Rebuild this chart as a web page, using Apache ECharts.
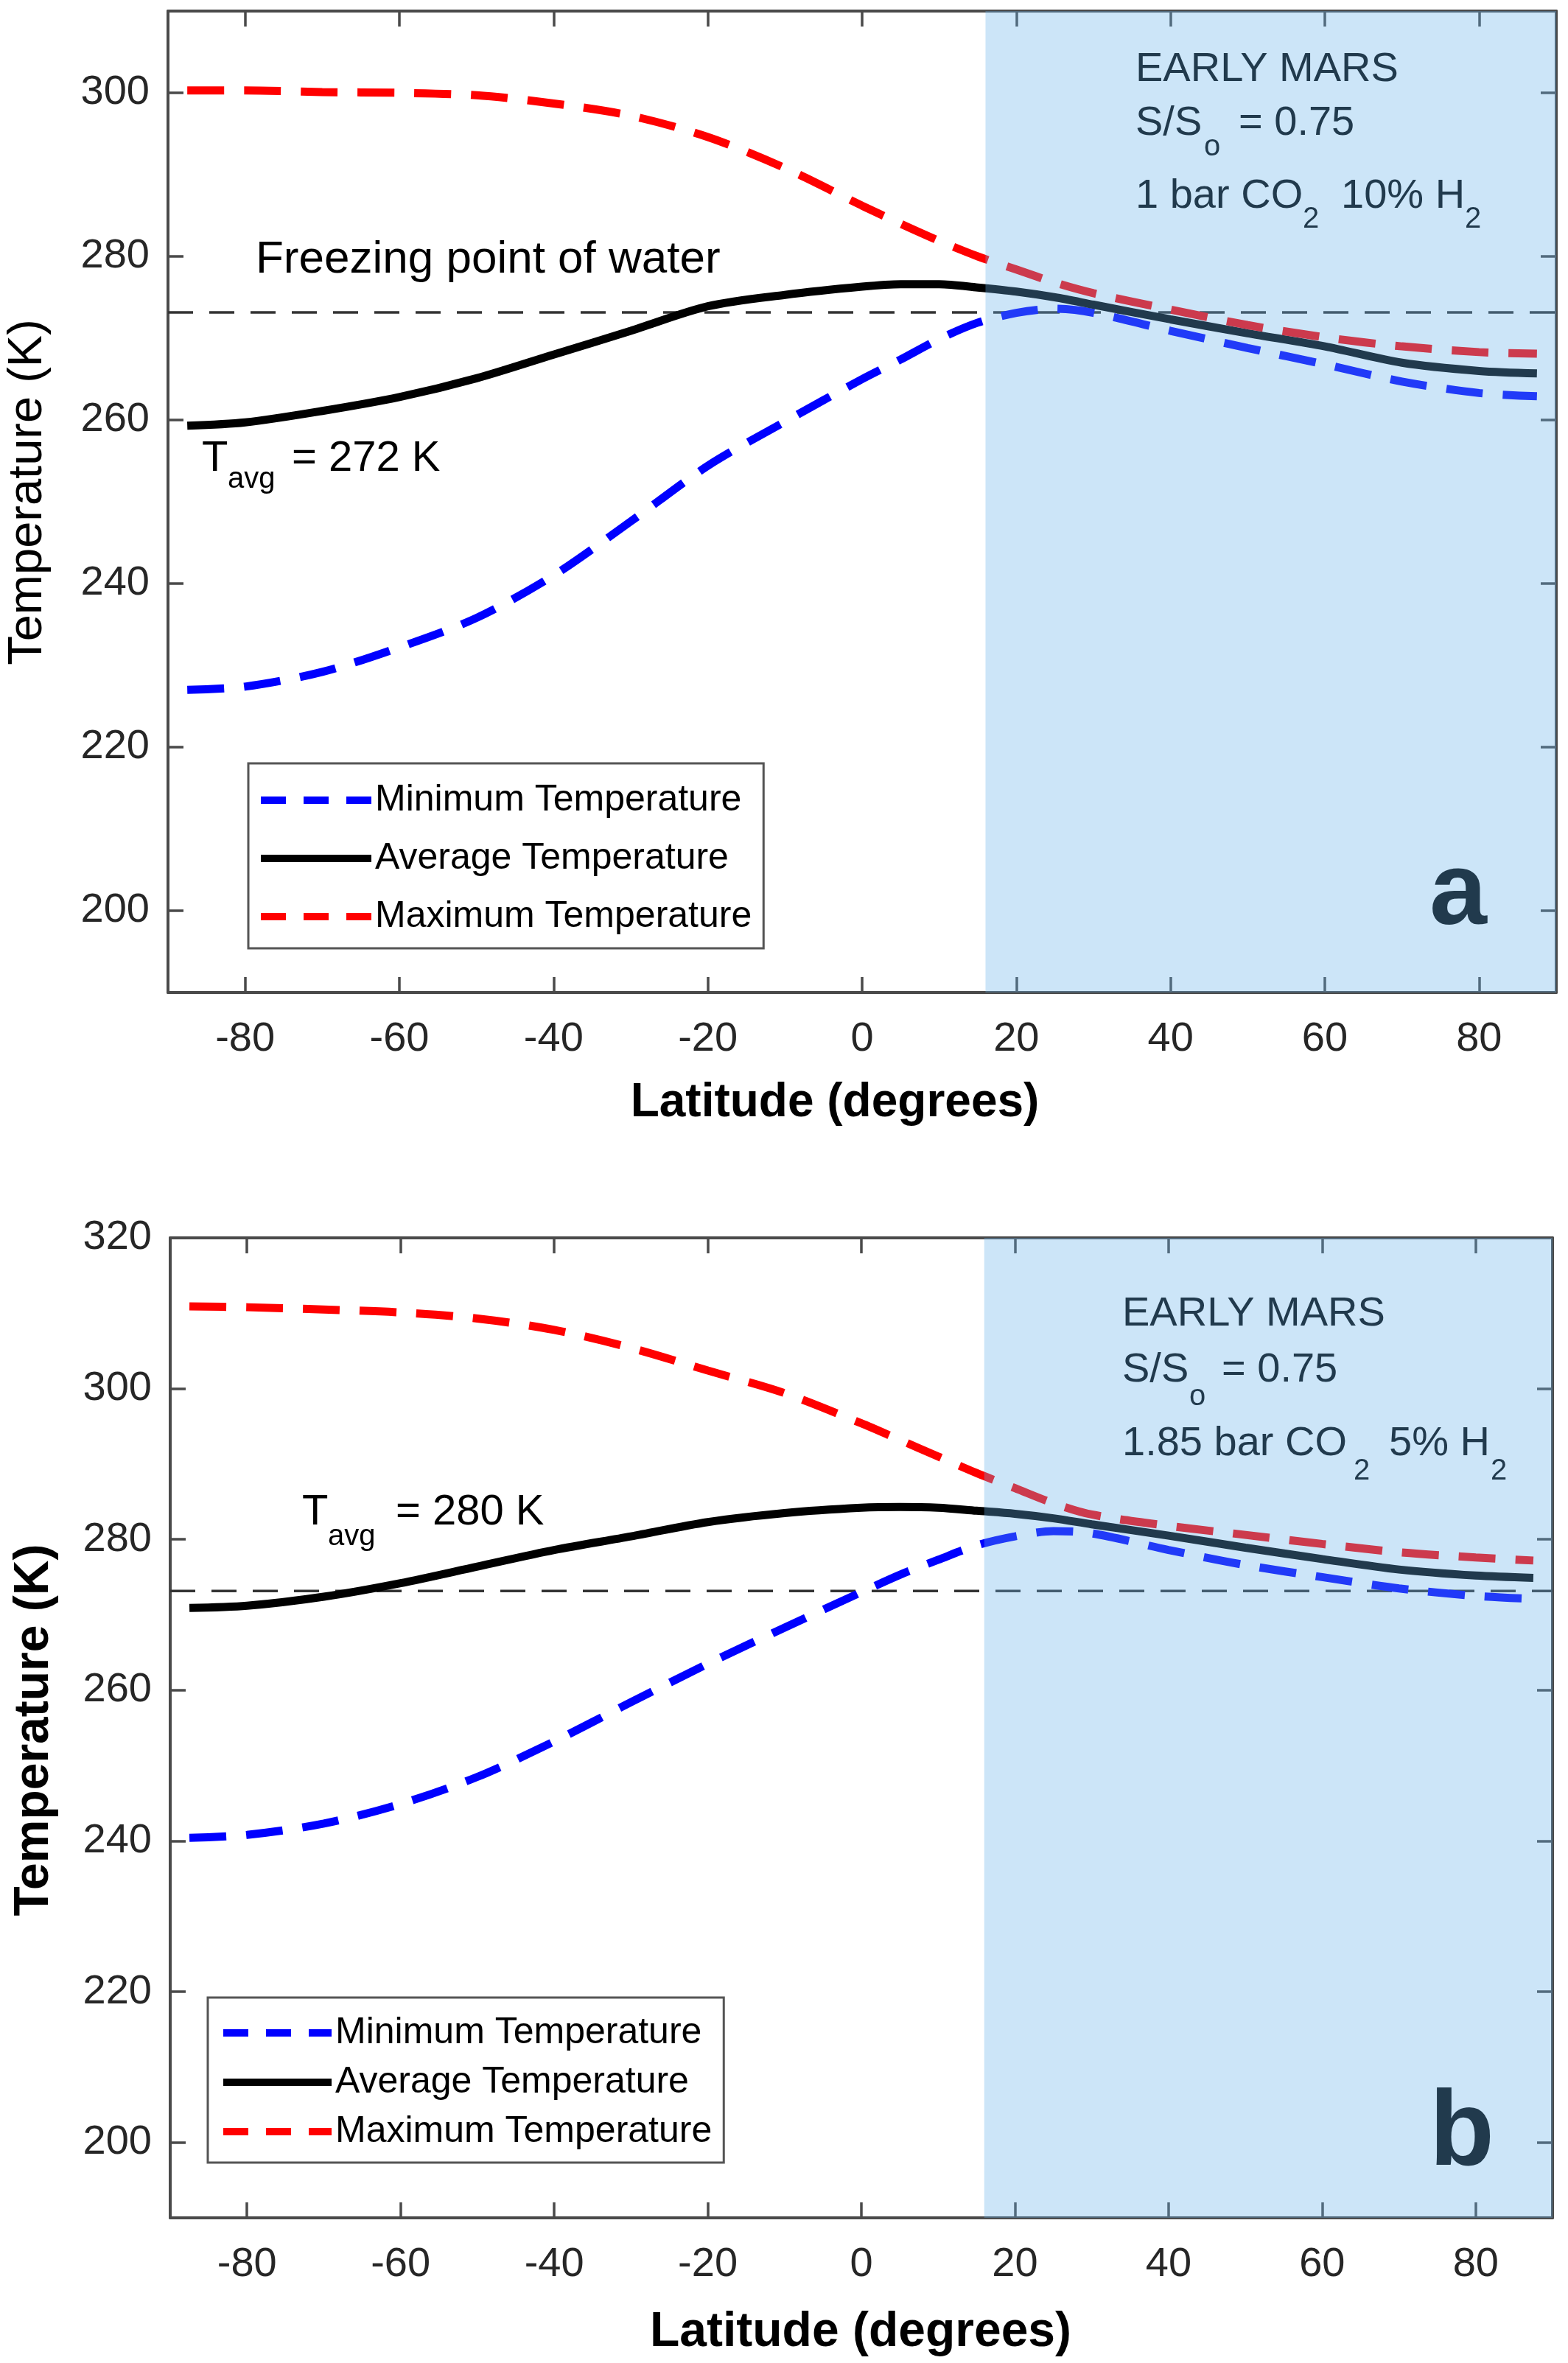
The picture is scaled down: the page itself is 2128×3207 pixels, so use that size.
<!DOCTYPE html>
<html>
<head>
<meta charset="utf-8">
<script src="https://cdn.jsdelivr.net/npm/echarts/dist/echarts.min.js"></script>
<style>
html,body{margin:0;padding:0;background:#fff;}
#chart{width:2128px;height:3207px;}
</style>
</head>
<body>
<div id="chart"></div>
<script>
// ---------- data ----------
const lat = [-87.5, -80, -70, -60, -50, -40, -30, -20, -10, 0, 5, 10, 15, 20, 25, 30, 40, 50, 60, 70, 80, 87.5];

// panel a : 1 bar CO2, 10% H2
const minA = [227.0, 227.4, 229.2, 232.2, 235.8, 241.0, 247.6, 254.4, 259.8, 265.0, 267.4, 269.9, 271.9, 273.1, 273.6, 273.1, 270.9, 268.8, 266.8, 264.7, 263.3, 262.9];
const avgA = [259.3, 259.7, 261.1, 262.8, 265.1, 268.0, 270.9, 273.9, 275.3, 276.3, 276.6, 276.6, 276.2, 275.7, 275.0, 274.1, 272.3, 270.6, 269.0, 267.0, 266.0, 265.7];
const maxA = [300.3, 300.3, 300.1, 300.0, 299.7, 298.7, 297.2, 294.6, 290.8, 286.2, 284.0, 281.9, 280.0, 278.4, 276.8, 275.5, 273.5, 271.6, 270.1, 269.0, 268.3, 268.1];

// panel b : 1.85 bar CO2, 5% H2
const minB = [240.4, 240.8, 242.3, 244.9, 248.5, 253.2, 258.4, 263.5, 268.3, 273.0, 275.3, 277.3, 279.2, 280.4, 281.1, 280.8, 278.6, 276.6, 275.0, 273.5, 272.5, 272.1];
const avgB = [270.9, 271.2, 272.4, 274.2, 276.4, 278.6, 280.4, 282.3, 283.5, 284.2, 284.3, 284.2, 283.8, 283.4, 282.8, 282.0, 280.5, 278.9, 277.4, 276.0, 275.2, 274.9];
const maxB = [310.9, 310.8, 310.5, 310.1, 309.3, 307.8, 305.4, 302.4, 299.4, 295.4, 293.2, 291.0, 288.8, 286.8, 284.8, 283.3, 281.8, 280.6, 279.4, 278.3, 277.6, 277.2];

const freezeLat = [-90, 90];
const freezeK = [273.15, 273.15];
const shadeLat = [16, 90];

const xTicks = [-80, -60, -40, -20, 0, 20, 40, 60, 80];
const yTicksA = [200, 220, 240, 260, 280, 300];
const yTicksB = [200, 220, 240, 260, 280, 300, 320];
const yRangeA = [190, 310];
const yRangeB = [190, 320];
const seriesNames = ['Minimum Temperature', 'Average Temperature', 'Maximum Temperature'];

// ---------- styling ----------
const FF = "'Liberation Sans', Arial, Helvetica, sans-serif";
const AX = '#4a4a4a';
const LBL = '#262626';
const SHADE = 'rgba(100,175,235,0.33)';
const LW = 11;
const DASH = [50, 27];
const zip = (xs, ys) => xs.map((x, i) => [x, ys[i]]);

function xAxes(grid) {
  return [{
    type: 'value', gridIndex: grid, position: 'bottom', min: -90, max: 90,
    axisLine: {show: true, onZero: false, lineStyle: {color: AX, width: 4}},
    axisTick: {show: true, inside: true, length: 21, customValues: xTicks, lineStyle: {color: AX, width: 3.5}},
    axisLabel: {show: true, customValues: xTicks, fontSize: 56, fontFamily: FF, color: LBL, margin: 36},
    splitLine: {show: false}
  }, {
    type: 'value', gridIndex: grid, position: 'top', min: -90, max: 90,
    axisLine: {show: true, onZero: false, lineStyle: {color: AX, width: 4}},
    axisTick: {show: true, inside: true, length: 21, customValues: xTicks, lineStyle: {color: AX, width: 3.5}},
    axisLabel: {show: false}, splitLine: {show: false}
  }];
}
function yAxes(grid, range, ticks) {
  return [{
    type: 'value', gridIndex: grid, position: 'left', min: range[0], max: range[1],
    axisLine: {show: true, onZero: false, lineStyle: {color: AX, width: 4}},
    axisTick: {show: true, inside: true, length: 21, customValues: ticks, lineStyle: {color: AX, width: 3.5}},
    axisLabel: {show: true, customValues: ticks, fontSize: 56, fontFamily: FF, color: LBL, margin: 25},
    splitLine: {show: false}
  }, {
    type: 'value', gridIndex: grid, position: 'right', min: range[0], max: range[1],
    axisLine: {show: true, onZero: false, lineStyle: {color: AX, width: 4}},
    axisTick: {show: true, inside: true, length: 21, customValues: ticks, lineStyle: {color: AX, width: 3.5}},
    axisLabel: {show: false}, splitLine: {show: false}
  }];
}

function panelSeries(xi, yi, mins, avgs, maxs, yRange) {
  return [
    {type: 'line', xAxisIndex: xi, yAxisIndex: yi, data: zip(freezeLat, freezeK), symbol: 'none', silent: true, z: 1,
     lineStyle: {color: '#333', width: 3.5, type: [34, 22]}},
    {name: seriesNames[0], type: 'line', xAxisIndex: xi, yAxisIndex: yi, data: zip(lat, mins), symbol: 'none', smooth: 0.3, color: '#0000ff',
     lineStyle: {color: '#0000ff', width: LW, type: DASH, cap: 'butt'}},
    {name: seriesNames[1], type: 'line', xAxisIndex: xi, yAxisIndex: yi, data: zip(lat, avgs), symbol: 'none', smooth: 0.3, color: '#000000',
     lineStyle: {color: '#000000', width: LW}},
    {name: seriesNames[2], type: 'line', xAxisIndex: xi, yAxisIndex: yi, data: zip(lat, maxs), symbol: 'none', smooth: 0.3, color: '#ff0000',
     lineStyle: {color: '#ff0000', width: LW, type: DASH, cap: 'butt'}},
    {type: 'custom', xAxisIndex: xi, yAxisIndex: yi, z: 10, silent: true, data: [shadeLat],
     renderItem: function (params, api) {
       const p0 = api.coord([api.value(0), yRange[1]]);
       const p1 = api.coord([api.value(1), yRange[0]]);
       return {type: 'rect', shape: {x: p0[0], y: p0[1], width: p1[0] - p0[0], height: p1[1] - p0[1]}, style: {fill: SHADE}};
     }}
  ];
}

function legendOf(left, top, padding, gap, iw) {
  return {
    orient: 'vertical', left: left, top: top, padding: padding, itemGap: gap,
    itemWidth: iw, itemHeight: 20, selectedMode: false,
    backgroundColor: '#fff', borderColor: '#555', borderWidth: 3, borderRadius: 0,
    itemStyle: {opacity: 0},
    lineStyle: {width: 10},
    textStyle: {fontSize: 50, lineHeight: 56, color: '#000', fontFamily: FF},
    data: [
      {name: seriesNames[0], itemStyle: {opacity: 0}, lineStyle: {width: 10, type: [34, 24], cap: 'butt'}},
      {name: seriesNames[1], itemStyle: {opacity: 0}, lineStyle: {width: 10}},
      {name: seriesNames[2], itemStyle: {opacity: 0}, lineStyle: {width: 10, type: [34, 24], cap: 'butt'}}
    ]
  };
}

// annotation text helper (baseline-based)
function T(text, x, baseline, size, o) {
  o = o || {};
  return {type: 'text', x: x, y: baseline - 0.35 * size, z: o.z !== undefined ? o.z : 50, rotation: o.rot || 0,
    style: {text: text, fill: o.fill || '#000', font: (o.bold ? 'bold ' : '') + size + 'px ' + FF,
            align: o.align || 'left', verticalAlign: 'middle', textAlign: o.align || 'left', textVerticalAlign: 'middle'}};
}
function C(text, cx, cy, size, o) {
  o = o || {};
  return {type: 'text', x: cx, y: cy, z: 50, rotation: o.rot || 0,
    style: {text: text, fill: '#000', font: (o.bold ? 'bold ' : '') + size + 'px ' + FF,
            align: 'center', verticalAlign: 'middle', textAlign: 'center', textVerticalAlign: 'middle'}};
}
const U = {z: 1}; // drawn under the shaded patch

const graphics = [
  // panel a
  T('Freezing point of water', 347, 375, 62),
  T('T', 274, 643, 58), T('avg', 309, 665, 40), T('= 272 K', 396, 643, 58),
  T('EARLY MARS', 1541, 114, 56, U),
  T('S/S', 1541, 187, 56, U), T('o', 1634, 214, 40, U), T('= 0.75', 1681, 187, 56, U),
  T('1 bar CO', 1541, 286, 56, U), T('2', 1768, 312, 40, U), T('10% H', 1820, 286, 56, U), T('2', 1988, 312, 40, U),
  T('a', 1940, 1264, 140, {z: 1, bold: true}),
  C('Temperature (K)', 38, 668, 65, {rot: Math.PI / 2}),
  C('Latitude (degrees)', 1133, 1497, 64, {bold: true}),
  // panel b
  T('T', 410, 2073, 58), T('avg', 445, 2100, 40), T('= 280 K', 537, 2073, 58),
  T('EARLY MARS', 1523, 1803, 56, U),
  T('S/S', 1523, 1879, 56, U), T('o', 1614, 1910, 40, U), T('= 0.75', 1658, 1879, 56, U),
  T('1.85 bar CO', 1523, 1979, 56, U), T('2', 1837, 2011, 40, U), T('5% H', 1885, 1979, 56, U), T('2', 2023, 2011, 40, U),
  T('b', 1940, 2949, 144, {z: 1, bold: true}),
  C('Temperature (K)', 47, 2348, 66, {rot: Math.PI / 2, bold: true}),
  C('Latitude (degrees)', 1168, 3166, 66, {bold: true})
];

const option = {
  backgroundColor: '#ffffff',
  animation: false,
  grid: [
    {left: 228, top: 15, width: 1884, height: 1332, containLabel: false},
    {left: 231, top: 1680, width: 1876, height: 1330, containLabel: false}
  ],
  xAxis: [].concat(xAxes(0), xAxes(1)),
  yAxis: [].concat(yAxes(0, yRangeA, yTicksA), yAxes(1, yRangeB, yTicksB)),
  legend: [
    legendOf(337, 1036, [22, 16, 15, 12], 23, 150),
    legendOf(282, 2711, [20, 16, 14, 16], 11, 147)
  ],
  series: [].concat(
    panelSeries(0, 0, minA, avgA, maxA, yRangeA),
    panelSeries(2, 2, minB, avgB, maxB, yRangeB)
  ),
  graphic: {elements: graphics}
};

const chart = echarts.init(document.getElementById('chart'), null, {renderer: 'canvas', width: 2128, height: 3207});
chart.setOption(option);
</script>
</body>
</html>
